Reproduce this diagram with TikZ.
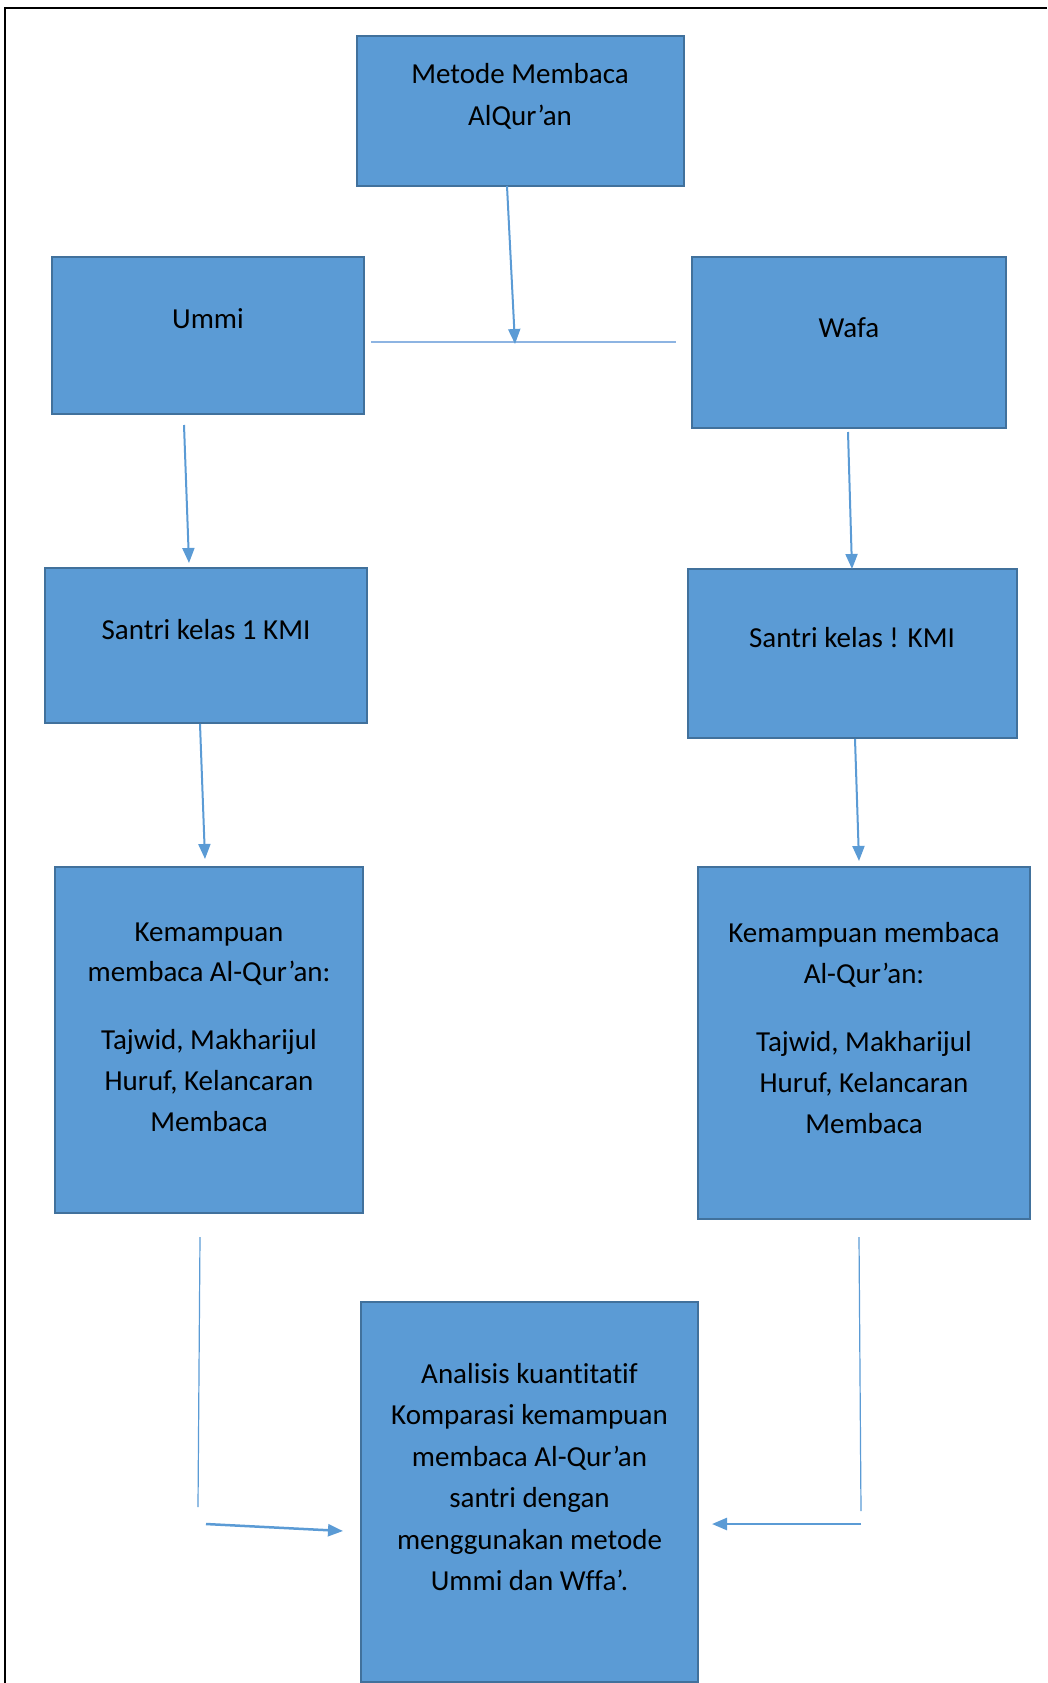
\documentclass[tikz,border=0pt]{standalone}
\usepackage{fontspec}
\setmainfont{Carlito}[Ligatures={NoCommon}]
\usetikzlibrary{arrows.meta}
\definecolor{boxfill}{HTML}{5B9BD5}
\definecolor{boxline}{HTML}{41719C}
\definecolor{conn}{HTML}{5B9BD5}
\definecolor{hlinec}{HTML}{8DB4E2}
\begin{document}
\begin{tikzpicture}[x=1pt,y=-1pt,
  box/.style={draw=boxline, fill=boxfill, line width=2.5pt, inner sep=0pt, rectangle},
  txt/.style={font=\fontsize{29}{41}\selectfont, anchor=base, inner sep=0pt, text=black},
  arr/.style={draw=conn, line width=2pt, -{Triangle[length=15pt,width=12pt]}},
  thinline/.style={draw=conn, line width=1.2pt},
  frame/.style={draw=black, line width=2.5pt}]
\useasboundingbox (0,0) rectangle (1047,1683);
% frame
\coordinate (fL) at (5,1683);
\coordinate (fTL) at (5,8);
\coordinate (fR) at (1047,8);
\draw[frame] (fL) -- (fTL) -- (fR);
% boxes
\node[box, minimum width=327pt, minimum height=150pt] (metode) at (520.5,111) {};
\node[box, minimum width=312pt, minimum height=157pt] (ummi) at (208,335.5) {};
\node[box, minimum width=314pt, minimum height=171pt] (wafa) at (849,342.5) {};
\node[box, minimum width=322pt, minimum height=155pt] (santri1) at (206,645.5) {};
\node[box, minimum width=329pt, minimum height=169pt] (santri2) at (852.5,653.5) {};
\node[box, minimum width=308pt, minimum height=346pt] (kem1) at (209,1040) {};
\node[box, minimum width=332pt, minimum height=352pt] (kem2) at (864,1043) {};
\node[box, minimum width=337pt, minimum height=380pt] (anal) at (529.5,1492) {};
% texts
\node[txt] (t1a) at (520,84) {Metode Membaca};
\node[txt] (t1b) at (520,126) {AlQur’an};
\node[txt] (t2) at (208,328) {Ummi};
\node[txt] (t3) at (849,337) {Wafa};
\node[txt] (t4) at (206,639) {Santri kelas 1 KMI};
\node[txt] (t5) at (852,647) {Santri kelas ! KMI};
\node[txt] (k1a) at (209,941) {Kemampuan};
\node[txt] (k1b) at (209,981) {membaca Al-Qur’an:};
\node[txt] (k1c) at (209,1049) {Tajwid, Makharijul};
\node[txt] (k1d) at (209,1090) {Huruf, Kelancaran};
\node[txt] (k1e) at (209,1131) {Membaca};
\node[txt] (k2a) at (864,942) {Kemampuan membaca};
\node[txt] (k2b) at (864,983) {Al-Qur’an:};
\node[txt] (k2c) at (864,1051) {Tajwid, Makharijul};
\node[txt] (k2d) at (864,1092) {Huruf, Kelancaran};
\node[txt] (k2e) at (864,1133) {Membaca};
\node[txt] (a1) at (529.5,1383) {Analisis kuantitatif};
\node[txt] (a2) at (529.5,1424) {Komparasi kemampuan};
\node[txt] (a3) at (529.5,1466) {membaca Al-Qur’an};
\node[txt] (a4) at (529.5,1507) {santri dengan};
\node[txt] (a5) at (529.5,1549) {menggunakan metode};
\node[txt] (a6) at (529.5,1590) {Ummi dan Wffa’.};
% connector coordinates
\coordinate (hl) at (371,342);
\coordinate (hr) at (676,342);
\coordinate (mS) at (507,186);
\coordinate (mE) at (515,344);
\coordinate (uS) at (184,425);
\coordinate (uE) at (189,563);
\coordinate (s1S) at (200,724);
\coordinate (s1E) at (205,859);
\coordinate (wS) at (848,432);
\coordinate (wE) at (852,569);
\coordinate (s2S) at (855,739);
\coordinate (s2E) at (859,861);
\coordinate (vlT) at (200,1237);
\coordinate (vlB) at (198,1507);
\coordinate (vrT) at (859,1237);
\coordinate (vrB) at (861,1511);
\coordinate (alS) at (206,1524);
\coordinate (alE) at (343,1531);
\coordinate (arS) at (861,1524);
\coordinate (arE) at (712,1524);
% connectors
\draw[draw=hlinec, line width=2pt] (hl) -- (hr);
\draw[arr] (mS) -- (mE);
\draw[arr] (uS) -- (uE);
\draw[arr] (s1S) -- (s1E);
\draw[arr] (wS) -- (wE);
\draw[arr] (s2S) -- (s2E);
\draw[thinline] (vlT) -- (vlB);
\draw[thinline] (vrT) -- (vrB);
\draw[arr, line width=2.5pt] (alS) -- (alE);
\draw[arr, line width=2.5pt] (arS) -- (arE);
\end{tikzpicture}
\end{document}
